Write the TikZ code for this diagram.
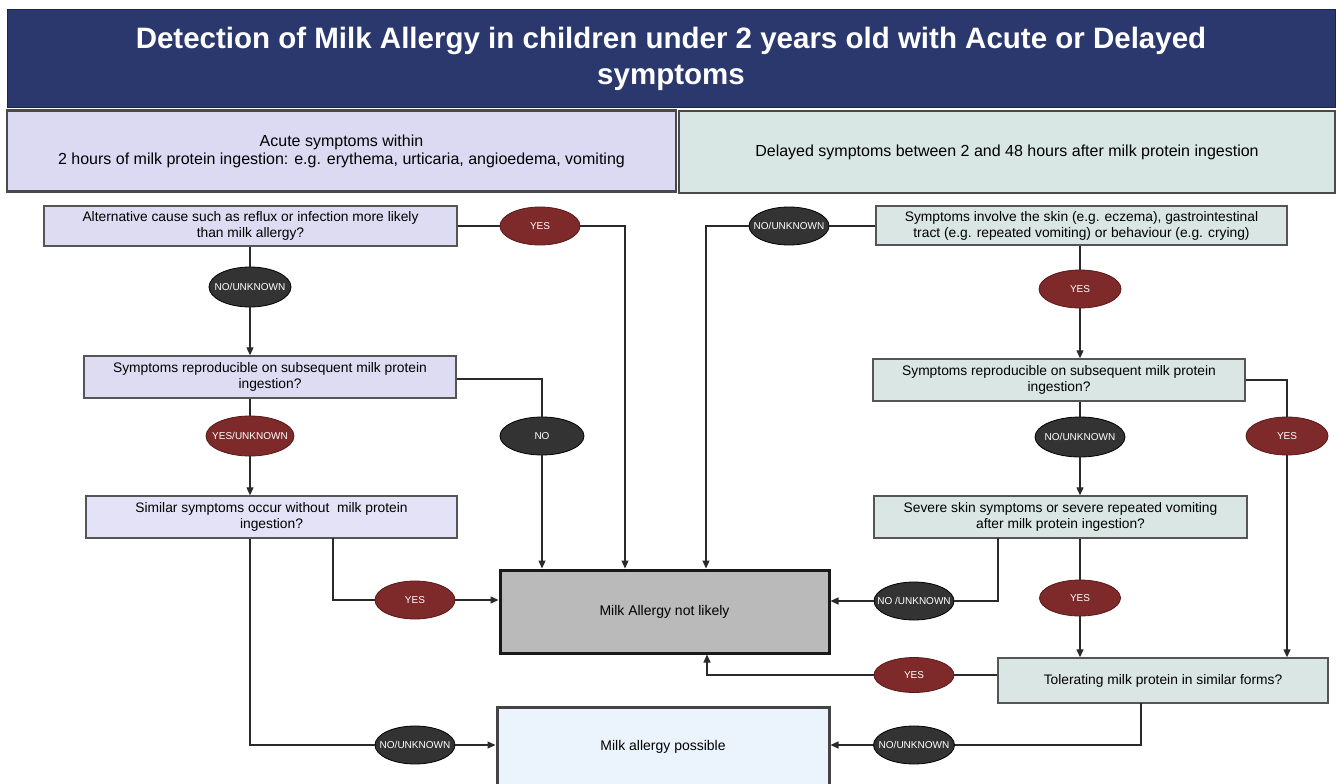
\documentclass[tikz,border=0pt]{standalone}
\usepackage{fontspec}
\setmainfont{Liberation Sans}
\usetikzlibrary{shapes.geometric,arrows.meta}
\definecolor{navy}{HTML}{2B386D}
\definecolor{navyedge}{HTML}{1C2550}
\definecolor{headline}{HTML}{4A4A4A}
\definecolor{boxline}{HTML}{555555}
\definecolor{acutefill}{HTML}{DCDAF3}
\definecolor{delayfill}{HTML}{D8E7E4}
\definecolor{lav}{HTML}{DEDCF3}
\definecolor{lavlight}{HTML}{E4E2F6}
\definecolor{mint}{HTML}{D9E6E3}
\definecolor{nlfill}{HTML}{BABABA}
\definecolor{possfill}{HTML}{EBF3FC}
\definecolor{possedge}{HTML}{444444}
\definecolor{yesred}{HTML}{7E2A2A}
\definecolor{yesedge}{HTML}{5A1818}
\definecolor{nodark}{HTML}{333333}
\definecolor{wirecol}{HTML}{2A2A2A}
\begin{document}
\begin{tikzpicture}[x=1pt,y=-1pt,
    header/.style={draw=headline,line width=2.5pt,align=center,inner sep=0pt,
      font=\fontsize{16}{18}\selectfont},
    ask/.style={draw=boxline,line width=1.4pt,align=center,inner sep=0pt,
      font=\fontsize{13.8}{16}\selectfont},
    outcome/.style={line width=3pt,inner sep=0pt,font=\fontsize{14}{16}\selectfont},
    oval/.style={ellipse,line width=.8pt,text=white,inner xsep=-12pt,inner ysep=0pt,
      minimum width=82pt,minimum height=38pt,font=\fontsize{10}{11}\selectfont},
    yesoval/.style={oval,fill=yesred,draw=yesedge},
    nooval/.style={oval,fill=nodark,draw=black},
    wire/.style={line width=1.2pt,draw=wirecol},
    arr/.style={wire,-{Triangle[length=8pt,width=7pt]}}]
  \useasboundingbox (0,0) rectangle (1336,784);

  \node[fill=navy,draw=navyedge,line width=1pt,minimum width=1328pt,minimum height=97pt,
    inner sep=0pt,text=white,align=center,font=\fontsize{29.5}{36}\selectfont\bfseries]
    (title) at (671,58.5) {Detection of Milk Allergy in children under 2 years old with Acute or Delayed\\symptoms};
  \node[header,fill=acutefill,minimum width=669pt,minimum height=81pt] (acute) at (341.5,151)
    {Acute symptoms within\\2 hours of milk protein ingestion: e.g. erythema, urticaria, angioedema, vomiting};
  \node[header,fill=delayfill,minimum width=656pt,minimum height=82pt] (delayed) at (1007,152)
    {Delayed symptoms between 2 and 48 hours after milk protein ingestion};

  \node[ask,fill=lav,minimum width=413pt,minimum height=40pt] (alt) at (250.5,226)
    {Alternative cause such as reflux or infection more likely\\than milk allergy?};
  \node[ask,fill=lav,minimum width=372pt,minimum height=42pt] (repro) at (270,377)
    {Symptoms reproducible on subsequent milk protein\\ingestion?};
  \node[ask,fill=lavlight,minimum width=371pt,minimum height=42pt] (similar) at (271.5,517)
    {Similar symptoms occur without\ \ milk protein\\ingestion?};
  \node[ask,fill=mint,minimum width=411pt,minimum height=39pt] (skin) at (1081.5,225.5)
    {Symptoms involve the skin (e.g. eczema), gastrointestinal\\tract (e.g. repeated vomiting) or behaviour (e.g. crying)};
  \node[ask,fill=mint,minimum width=372pt,minimum height=42pt] (reprod) at (1059,380)
    {Symptoms reproducible on subsequent milk protein\\ingestion?};
  \node[ask,fill=mint,minimum width=373pt,minimum height=42pt] (severe) at (1060.5,517)
    {Severe skin symptoms or severe repeated vomiting\\after milk protein ingestion?};
  \node[ask,fill=mint,minimum width=330pt,minimum height=45pt] (tolerate) at (1163,680.5)
    {Tolerating milk protein in similar forms?};

  \node[outcome,draw=black!90,fill=nlfill,minimum width=329pt,minimum height=83pt] (notlikely)
    at (664.5,611.5) {Milk Allergy not likely};
  \node[outcome,draw=possedge,fill=possfill,minimum width=332pt,minimum height=80pt] (possible)
    at (663,747) {Milk allergy possible};

  \node[yesoval,minimum width=80pt] (altyes) at (540,226) {YES};
  \node[nooval,minimum height=40pt] (altno) at (250,287) {NO/UNKNOWN};
  \node[yesoval,minimum width=88pt,minimum height=40pt] (reproyes) at (250,436) {YES/UNKNOWN};
  \node[nooval,minimum width=84pt] (reprono) at (542,436) {NO};
  \node[yesoval,minimum width=80pt] (simyes) at (415,600) {YES};
  \node[nooval,minimum width=80pt] (simno) at (415,745) {NO/UNKNOWN};
  \node[nooval,minimum width=80pt] (skinno) at (789,226) {NO/UNKNOWN};
  \node[yesoval] (skinyes) at (1080,289) {YES};
  \node[nooval,minimum width=90pt,minimum height=40pt] (rdno) at (1080,437) {NO/UNKNOWN};
  \node[yesoval] (rdyes) at (1287,436) {YES};
  \node[nooval,minimum width=80pt] (sevno) at (914,601) {NO /UNKNOWN};
  \node[yesoval,minimum width=81pt,minimum height=36pt] (sevyes) at (1080,598) {YES};
  \node[yesoval,minimum width=80pt,minimum height=35pt] (tolyes) at (914,675) {YES};
  \node[nooval,minimum width=81pt] (tolno) at (914,745) {NO/UNKNOWN};

  \coordinate (simfork) at (333,538);
  \coordinate (sevfork) at (998,538);
  \coordinate (tolfork) at (1141,703);

  \draw[wire] (alt) -- (altyes);
  \draw[arr] (altyes.east) -| ([xshift=-39.5pt]notlikely.north);
  \draw[wire] (alt.south -| altno) -- (altno);
  \draw[arr] (altno) -- (altno |- repro.north);
  \draw[wire] ([yshift=-2pt]repro.east) -| (reprono);
  \draw[arr] (reprono) -- (reprono |- notlikely.north);
  \draw[wire] (repro.south -| reproyes) -- (reproyes);
  \draw[arr] (reproyes) -- (reproyes |- similar.north);
  \draw[wire] (simfork) |- (simyes);
  \draw[arr] (simyes) -- (simyes -| notlikely.west);
  \draw[wire] (similar.south -| altno) |- (simno);
  \draw[arr] (simno) -- (simno -| possible.west);

  \draw[wire] (skin.west |- skinno) -- (skinno);
  \draw[arr] (skinno.west) -| ([xshift=41.5pt]notlikely.north);
  \draw[wire] (skin.south -| skinyes) -- (skinyes);
  \draw[arr] (skinyes) -- (skinyes |- reprod.north);
  \draw[wire] (reprod.east) -| (rdyes);
  \draw[arr] (rdyes) -- (rdyes |- tolerate.north);
  \draw[wire] (reprod.south -| rdno) -- (rdno);
  \draw[arr] (rdno) -- (rdno |- severe.north);
  \draw[wire] (sevfork) |- (sevno);
  \draw[arr] (sevno) -- (sevno -| notlikely.east);
  \draw[wire] (severe.south -| sevyes) -- (sevyes);
  \draw[arr] (sevyes) -- (sevyes |- tolerate.north);
  \draw[wire] (tolerate.west |- tolyes) -- (tolyes);
  \draw[arr] (tolyes.west) -| ([xshift=42.5pt]notlikely.south);
  \draw[wire] (tolfork) |- (tolno);
  \draw[arr] (tolno) -- (tolno -| possible.east);
\end{tikzpicture}
\end{document}
